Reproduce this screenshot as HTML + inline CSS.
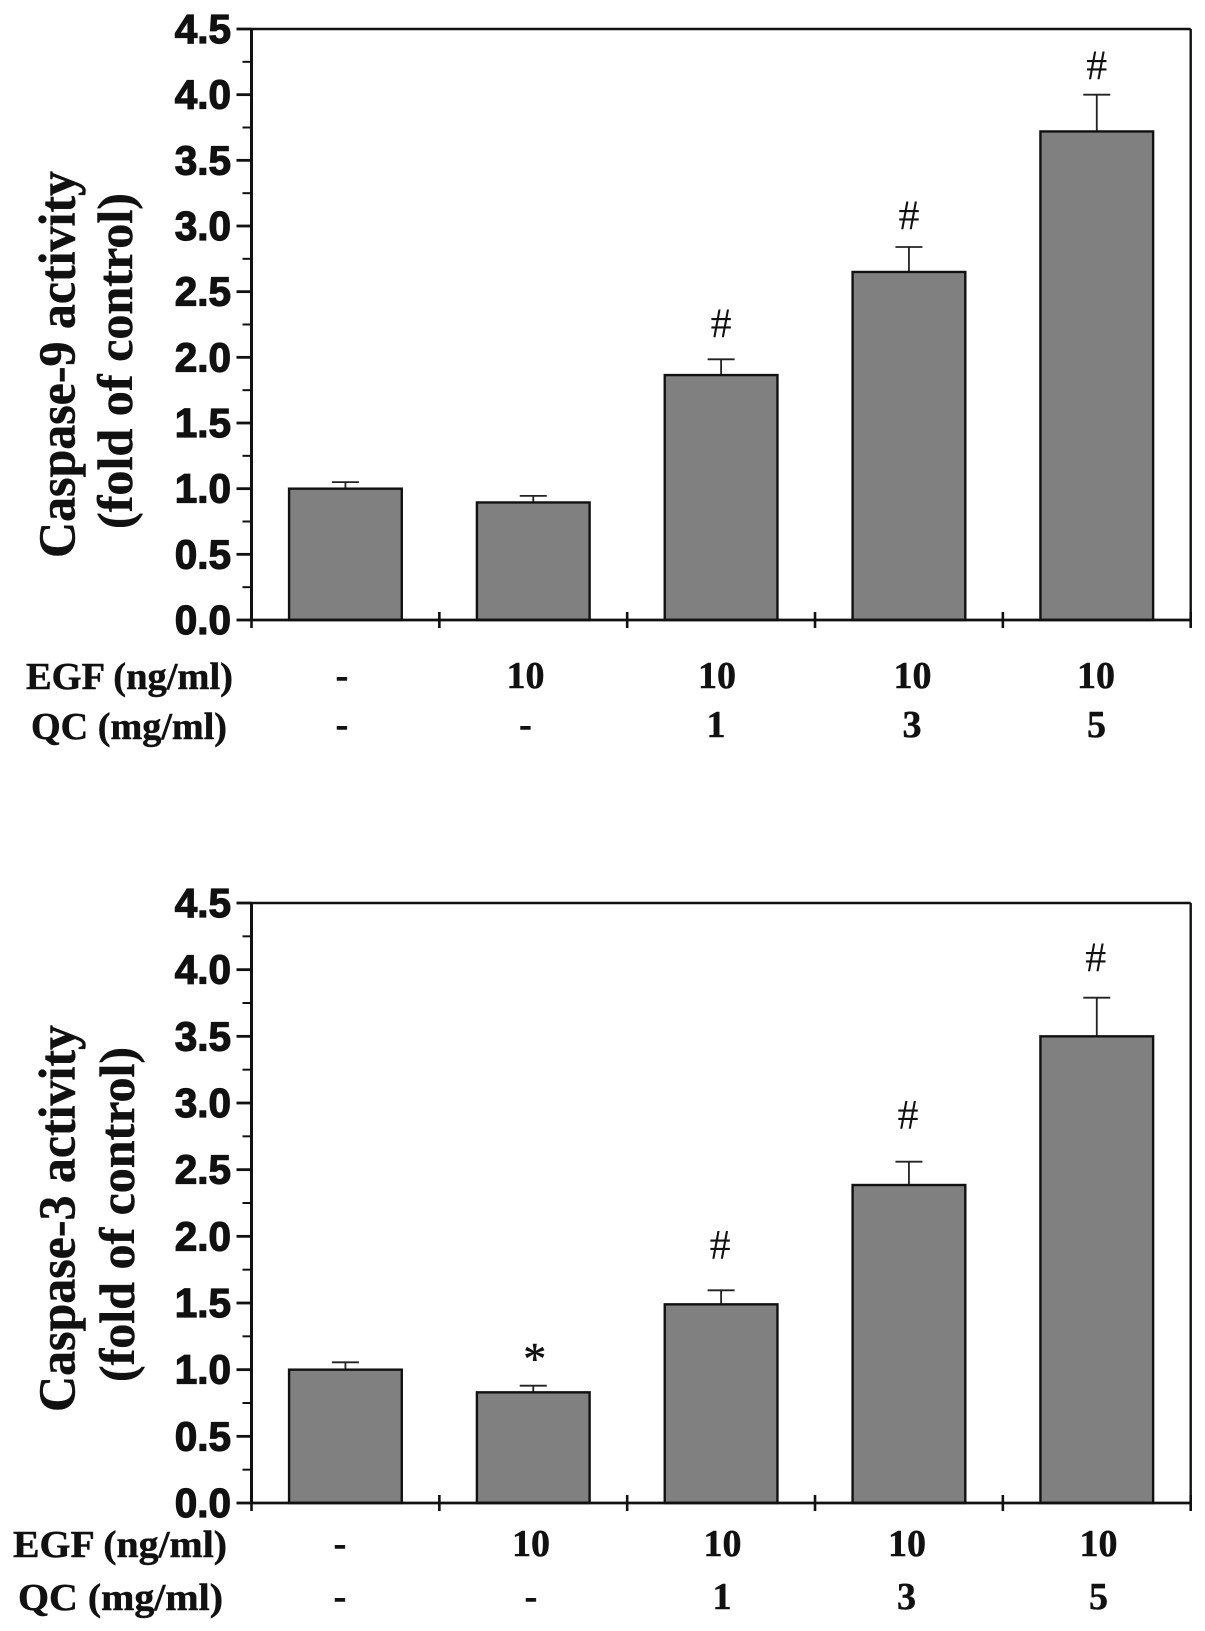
<!DOCTYPE html>
<html lang="en">
<head>
<meta charset="utf-8">
<title>Caspase activity bar charts</title>
<style>
html,body{margin:0;padding:0;background:#fff;}
svg{display:block;}
.serif{font-family:"Liberation Serif",serif;font-weight:bold;fill:#111;stroke:#111;stroke-width:.5px;}
.title{font-size:52px;}
.title2{font-size:50px;}
.cat{font-size:38px;text-anchor:middle;}
.rowlabel{font-size:38px;}
.tick-label{font-family:"Liberation Sans",sans-serif;font-weight:bold;font-size:40.5px;fill:#111;stroke:#111;stroke-width:1.2px;text-anchor:end;}
.marker{font-family:"Liberation Serif",serif;fill:#111;text-anchor:middle;font-size:42px;}
.marker-star{font-size:46px;stroke:#111;stroke-width:.5px;}
</style>
</head>
<body>
<svg id="chart" xmlns="http://www.w3.org/2000/svg" width="1205" height="1631" viewBox="0 0 1205 1631">
  <rect width="1205" height="1631" fill="#fff"/>

  <g>
    <text class="serif title" transform="translate(74.5 558) rotate(-90)" textLength="387" lengthAdjust="spacingAndGlyphs">Caspase-9 activity</text>
    <text class="serif title2" transform="translate(132 529) rotate(-90)" textLength="336" lengthAdjust="spacingAndGlyphs">(fold of control)</text>
    <text class="serif rowlabel" x="26" y="689" textLength="207" lengthAdjust="spacingAndGlyphs">EGF (ng/ml)</text>
    <text class="serif rowlabel" x="31" y="739" textLength="196" lengthAdjust="spacingAndGlyphs">QC (mg/ml)</text>
    <text class="serif cat" x="342" y="688">-</text>
    <text class="serif cat" x="525.5" y="688">10</text>
    <text class="serif cat" x="717" y="688">10</text>
    <text class="serif cat" x="912.5" y="688">10</text>
    <text class="serif cat" x="1096" y="688">10</text>
    <text class="serif cat" x="342" y="737">-</text>
    <text class="serif cat" x="525.5" y="737">-</text>
    <text class="serif cat" x="716" y="737">1</text>
    <text class="serif cat" x="912" y="737">3</text>
    <text class="serif cat" x="1096.5" y="737">5</text>
  </g>

  <g>
    <text class="serif title" transform="translate(74.5 1412) rotate(-90)" textLength="387" lengthAdjust="spacingAndGlyphs">Caspase-3 activity</text>
    <text class="serif title2" transform="translate(134 1382) rotate(-90)" textLength="335" lengthAdjust="spacingAndGlyphs">(fold of control)</text>
    <text class="serif rowlabel" x="13" y="1557" textLength="214" lengthAdjust="spacingAndGlyphs">EGF (ng/ml)</text>
    <text class="serif rowlabel" x="18" y="1610" textLength="205" lengthAdjust="spacingAndGlyphs">QC (mg/ml)</text>
    <text class="serif cat" x="340" y="1556">-</text>
    <text class="serif cat" x="531" y="1556">10</text>
    <text class="serif cat" x="722.5" y="1556">10</text>
    <text class="serif cat" x="907" y="1556">10</text>
    <text class="serif cat" x="1098.5" y="1556">10</text>
    <text class="serif cat" x="340" y="1609">-</text>
    <text class="serif cat" x="531" y="1609">-</text>
    <text class="serif cat" x="722" y="1609">1</text>
    <text class="serif cat" x="906.5" y="1609">3</text>
    <text class="serif cat" x="1098.5" y="1609">5</text>
  </g>
</svg>
<script>
// Chart data
const categories = ['control', 'EGF 10', 'EGF 10 + QC 1', 'EGF 10 + QC 3', 'EGF 10 + QC 5'];
const yTickValues = [0, 0.5, 1, 1.5, 2, 2.5, 3, 3.5, 4, 4.5];
const yTickLabels = ['0.0', '0.5', '1.0', '1.5', '2.0', '2.5', '3.0', '3.5', '4.0', '4.5'];
const yMinorValues = [0.25, 0.75, 1.25, 1.75, 2.25, 2.75, 3.25, 3.75, 4.25];

const caspase9Values = [1.0, 0.895, 1.865, 2.65, 3.72];
const caspase9Errors = [0.05, 0.05, 0.12, 0.19, 0.28];
const caspase9Markers = ['', '', '#', '#', '#'];
const caspase9MarkerGaps = [0, 0, 0.165, 0.135, 0.115];

const caspase3Values = [1.0, 0.83, 1.49, 2.385, 3.5];
const caspase3Errors = [0.055, 0.05, 0.105, 0.175, 0.29];
const caspase3Markers = ['', '*', '#', '#', '#'];
const caspase3MarkerGaps = [0, 0.087, 0.235, 0.245, 0.195];

const svg = document.getElementById('chart');
const NS = 'http://www.w3.org/2000/svg';

function svgEl(tag, attrs, parent) {
  const el = document.createElementNS(NS, tag);
  for (const k in attrs) el.setAttribute(k, attrs[k]);
  parent.appendChild(el);
  return el;
}

function drawPanel(prefix, frame, values, errors, markers, gaps) {
  const step = (frame.right - frame.left) / categories.length;
  const barWidth = step * 0.6;
  const yMax = yTickValues[yTickValues.length - 1];
  const xScale = function (i) { return frame.left + (i + 0.5) * step; };
  const yScale = function (v) { return frame.bottom - (v / yMax) * (frame.bottom - frame.top); };

  const g = svgEl('g', {}, svg);
  
  

  // Error bars sit behind the bars
  values.forEach(function (v, i) {
    const cx = xScale(i);
    const yTop = yScale(v + errors[i]);
    const stem = svgEl('line', { x1: cx, x2: cx, y1: yScale(v), y2: yTop, stroke: '#222', 'stroke-width': 1.8 }, g);
    
    
    const cap = svgEl('line', { x1: cx - 13.5, x2: cx + 13.5, y1: yTop, y2: yTop, stroke: '#222', 'stroke-width': 1.8 }, g);
    
    
  });

  // Bars
  values.forEach(function (v, i) {
    const y = yScale(v);
    const bar = svgEl('rect', {
      x: xScale(i) - barWidth / 2, y: y, width: barWidth, height: frame.bottom - y,
      fill: '#808080', stroke: '#111', 'stroke-width': 2.4
    }, g);
    
    
  });

  // Frame
  const sides = [
    [frame.left, frame.top, frame.right, frame.top, 2.4],
    [frame.right, frame.top, frame.right, frame.bottom, 2.4],
    [frame.left, frame.top, frame.left, frame.bottom, 3],
    [frame.left, frame.bottom, frame.right, frame.bottom, 2.8]
  ];
  sides.forEach(function (s) {
    const line = svgEl('line', { x1: s[0], y1: s[1], x2: s[2], y2: s[3], stroke: '#111', 'stroke-width': s[4] }, g);
    
    
  });

  // Y major ticks and labels
  yTickValues.forEach(function (v, i) {
    const y = yScale(v);
    const tick = svgEl('line', { x1: frame.left - 15, x2: frame.left, y1: y, y2: y, stroke: '#111', 'stroke-width': 2.8 }, g);
    
    
    const label = svgEl('text', { x: 231, y: y + 14, class: 'tick-label' }, g);
    
    
    label.textContent = yTickLabels[i];
  });

  // Y minor ticks
  yMinorValues.forEach(function (v) {
    const y = yScale(v);
    const tick = svgEl('line', { x1: frame.left - 9, x2: frame.left, y1: y, y2: y, stroke: '#111', 'stroke-width': 2 }, g);
    
    
  });

  // X ticks on the category boundaries
  for (let i = 0; i <= categories.length; i++) {
    const x = frame.left + i * step;
    const tick = svgEl('line', { x1: x, x2: x, y1: frame.bottom - 8, y2: frame.bottom + 8, stroke: '#111', 'stroke-width': 2.6 }, g);
    
    
  }

  // Significance markers
  markers.forEach(function (m, i) {
    if (!m) return;
    const shift = m === '*' ? 1.5 : frame.markerShift;
    const t = svgEl('text', { x: xScale(i) + shift, y: yScale(values[i] + errors[i] + gaps[i]), class: m === '*' ? 'marker marker-star' : 'marker' }, g);
    
    
    t.textContent = m;
  });
}

drawPanel('caspase-9', { left: 251.5, right: 1190.7, top: 29, bottom: 620, markerShift: 0 }, caspase9Values, caspase9Errors, caspase9Markers, caspase9MarkerGaps);
drawPanel('caspase-3', { left: 251.5, right: 1190.7, top: 903, bottom: 1503, markerShift: -1 }, caspase3Values, caspase3Errors, caspase3Markers, caspase3MarkerGaps);
</script>
</body>
</html>
